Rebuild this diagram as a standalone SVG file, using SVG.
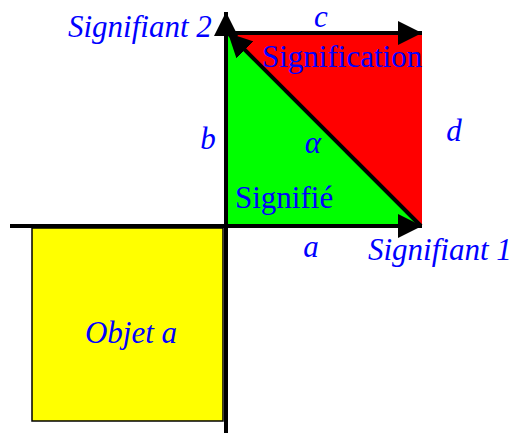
<svg xmlns="http://www.w3.org/2000/svg" width="515" height="433" viewBox="0 0 515 433">
<defs>
<style>
.t{font-family:"Liberation Serif","Times New Roman",serif;font-size:31px;fill:#0000ff}
.i{font-style:italic}
.ln{stroke:#000;stroke-width:4;fill:none}
</style>
<marker id="ah" viewBox="0 0 24 24" refX="24" refY="12" markerWidth="24" markerHeight="24" markerUnits="userSpaceOnUse" orient="auto">
<path d="M0,0 L24,12 L0,24 Z" fill="#000"/>
</marker>
</defs>
<rect width="515" height="433" fill="#fff"/>
<g id="objet">
<rect x="32" y="228" width="191" height="193" fill="#ffff00" stroke="#000" stroke-width="1.5"/>
<text class="t i" x="131" y="343" text-anchor="middle">Objet a</text>
</g>
<g id="signification">
<polygon points="228,33 422,33 422,226" fill="#ff0000"/>
<text class="t" x="262" y="67">Signification</text>
</g>
<g id="signifie">
<polygon points="228,33 228,225 422,225" fill="#00ff00"/>
<text class="t" x="235" y="208">Signifié</text>
</g>
<g id="connectors">
<line class="ln" x1="10" y1="226" x2="422" y2="226" marker-end="url(#ah)"/>
<line class="ln" x1="226" y1="433" x2="226" y2="12" marker-end="url(#ah)"/>
<line class="ln" x1="226" y1="33" x2="422" y2="33" marker-end="url(#ah)"/>
<line class="ln" x1="421" y1="226" x2="228" y2="33" marker-end="url(#ah)"/>
</g>
<g id="labels">
<text class="t i" x="68" y="37">Signifiant 2</text>
<text class="t i" x="368" y="260">Signifiant 1</text>
<text class="t i" x="321" y="27" text-anchor="middle">c</text>
<text class="t i" x="208" y="149" text-anchor="middle">b</text>
<text class="t i" x="454" y="141" text-anchor="middle">d</text>
<text class="t i" x="311" y="257" text-anchor="middle">a</text>
<text class="t i" x="313" y="153" text-anchor="middle">α</text>
</g>
</svg>
